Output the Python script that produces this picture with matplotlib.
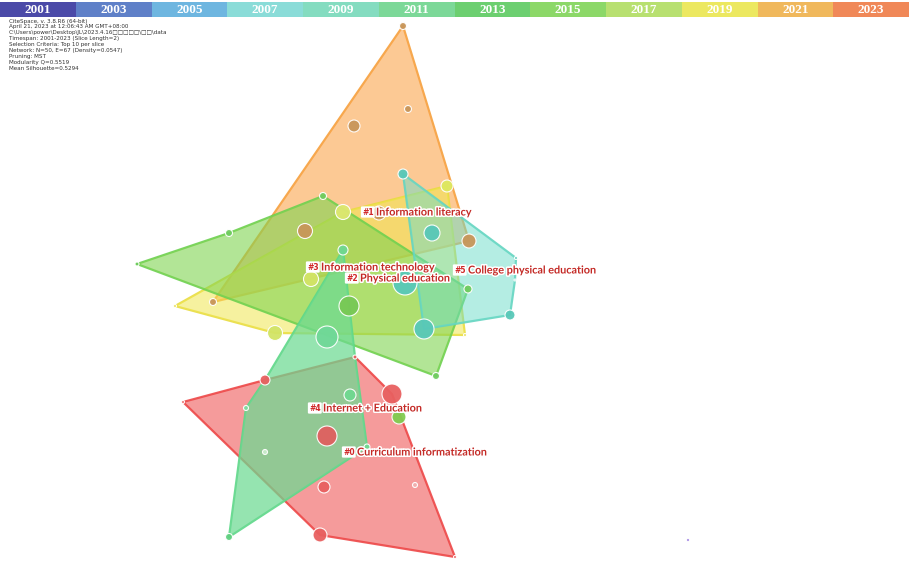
import matplotlib
matplotlib.use("Agg")
import matplotlib.pyplot as plt
import matplotlib.patheffects as pe

# timeline bar
years = ["2001", "2003", "2005", "2007", "2009", "2011",
         "2013", "2015", "2017", "2019", "2021", "2023"]
year_colors = ["#4b4aa8", "#5f80c8", "#6eb6e0", "#8adcd8", "#84dcc0", "#7cd898",
               "#6ccf70", "#8cd868", "#b8e070", "#ece860", "#f0b85c", "#f08858"]

meta_lines = [
    "CiteSpace, v. 3.8.R6 (64-bit)",
    "April 21, 2023 at 12:06:43 AM GMT+08:00",
    "C:\\Users\\power\\Desktop\\JL\\2023.4.16\u25a1\u25a1\u25a1\u25a1\u25a1\\\u25a1\u25a1\\data",
    "Timespan: 2001-2023 (Slice Length=2)",
    "Selection Criteria: Top 10 per slice",
    "Network: N=50, E=67 (Density=0.0547)",
    "Pruning: MST",
    "Modularity Q=0.5519",
    "Mean Silhouette=0.5294",
]

# nodes (layout coordinates as exported by CiteSpace)
node_x = [403, 408, 354, 305, 379, 469, 213, 447, 343, 311, 275, 175, 465,
          137, 229, 323, 468, 436, 349, 343, 327, 350, 246, 229, 367,
          265, 355, 183, 392, 399, 327, 324, 320, 455, 415, 265,
          403, 516, 515, 510, 424, 432, 405, 688]
node_y = [26, 109, 126, 231, 213, 241, 302, 186, 212, 279, 333, 306, 335,
          264, 233, 196, 289, 376, 306, 250, 337, 395, 408, 537, 447,
          380, 357, 402, 394, 417, 436, 487, 535, 557, 485, 452,
          174, 258, 280, 315, 329, 233, 283, 540]
node_r = [3.5, 3.5, 6, 7.5, 7, 7, 3.5, 6, 7.5, 7.5, 7.5, 1.5, 1.5,
          2, 3.5, 3.5, 4, 3.5, 10, 5, 11, 6, 2.5, 3.5, 3,
          5, 2, 1.5, 10, 7, 10, 6, 7, 1.5, 2.5, 2.5,
          5, 1.5, 1, 5, 10, 8, 12, 1.5]
node_color = ["#c8965a", "#c8965a", "#c8965a", "#c8965a", "#c8965a", "#c8965a", "#c8965a",
              "#dde860", "#dde870", "#d2e466", "#d2e466", "#e8e050", "#e8e050",
              "#70cc60", "#70cc60", "#70cc60", "#70cc60", "#70cc60", "#78c855",
              "#70d890", "#70d898", "#70d890", "#80dca0", "#60d080", "#70d890",
              "#e86060", "#e86060", "#e86060", "#e86060", "#80cc50", "#e06060",
              "#e86060", "#e86060", "#e86060", "#f0b0b0", "#c8eccc",
              "#58c8b8", "#58c8b8", "#58c8b8", "#58c8b8", "#58c8b8", "#58c8b8", "#58c8b8",
              "#9070e0"]

# cluster hulls: node indices in drawing order
hull_c1 = [0, 5, 6]
hull_c2 = [11, 10, 12, 7, 8]
hull_c3 = [13, 14, 15, 16, 17]
hull_c5 = [36, 37, 38, 39, 40]
hull_c0 = [27, 25, 26, 28, 33, 32]
hull_c4 = [19, 26, 24, 23, 22, 25]

cluster_ids = ["#1", "#2", "#3", "#5", "#0", "#4"]
cluster_fill = ["#fba64d", "#f0e650", "#80d450", "#6adcc8", "#ee4a4a", "#6cda92"]
cluster_edge = ["#f5a03c", "#e8dc40", "#6cd050", "#64d4c0", "#ee4848", "#5cd888"]
cluster_alpha = [0.6, 0.55, 0.6, 0.5, 0.55, 0.72]

label_ids = ["#1", "#3", "#2", "#5", "#4", "#0"]
label_text = ["Information literacy", "Information technology", "Physical education",
              "College physical education", "Internet + Education",
              "Curriculum informatization"]
label_x = [362, 307, 346, 454, 309, 343]
label_y = [212, 267, 278, 270, 408, 452]

fig = plt.figure(figsize=(9.09, 5.61), dpi=100)
ax = fig.add_axes([0, 0, 1, 1])
ax.set_xlim(0, 909)
ax.set_ylim(561, 0)
ax.set_axis_off()

hulls = [hull_c1, hull_c2, hull_c3, hull_c5, hull_c0, hull_c4]
for k, (hull, fc, ec, a) in enumerate(zip(hulls, cluster_fill, cluster_edge, cluster_alpha)):
    xs = [node_x[i] for i in hull]
    ys = [node_y[i] for i in hull]
    ax.plot(xs + xs[:1], ys + ys[:1], color=ec, lw=1.6, alpha=0.9, zorder=1 + 2 * k)
    ax.fill(xs, ys, color=fc, alpha=a, lw=0, zorder=2 + 2 * k)

sizes = [(2 * r * 0.72) ** 2 for r in node_r]
ax.scatter(node_x, node_y, s=sizes, c=node_color, edgecolors="white",
           linewidths=0.8, zorder=20, alpha=0.95)

halo = [pe.withStroke(linewidth=2.2, foreground="white")]
for cid, txt, x, y in zip(label_ids, label_text, label_x, label_y):
    ax.text(x, y, cid, fontsize=5.5, fontweight="bold", color="#d02828",
            ha="left", va="center", zorder=25,
            bbox=dict(boxstyle="round,pad=0.15", fc="white", ec="none"))
    ax.text(x + 14, y, txt, fontsize=7.8, fontweight="bold", color="#c42a26",
            family="Lato", ha="left", va="center", zorder=25, path_effects=halo)

# metadata
for k, line in enumerate(meta_lines):
    ax.text(9, 21 + k * 5.9, line, fontsize=4.1, color="#333333",
            ha="left", va="center", zorder=26)

# timeline bar at the top
bar = fig.add_axes([0, 1 - 17 / 561, 1, 15 / 561])
bar.bar(range(len(years)), [1] * len(years), width=1.0, color=year_colors, align="edge")
bar.set_xlim(0, len(years))
bar.set_ylim(0, 1)
bar.set_axis_off()
for k, yr in enumerate(years):
    bar.text(k + 0.5, 0.45, yr, ha="center", va="center", color="white",
             fontsize=9.5, fontweight="bold", family="Liberation Serif")

fig.savefig("out.png", dpi=100)
